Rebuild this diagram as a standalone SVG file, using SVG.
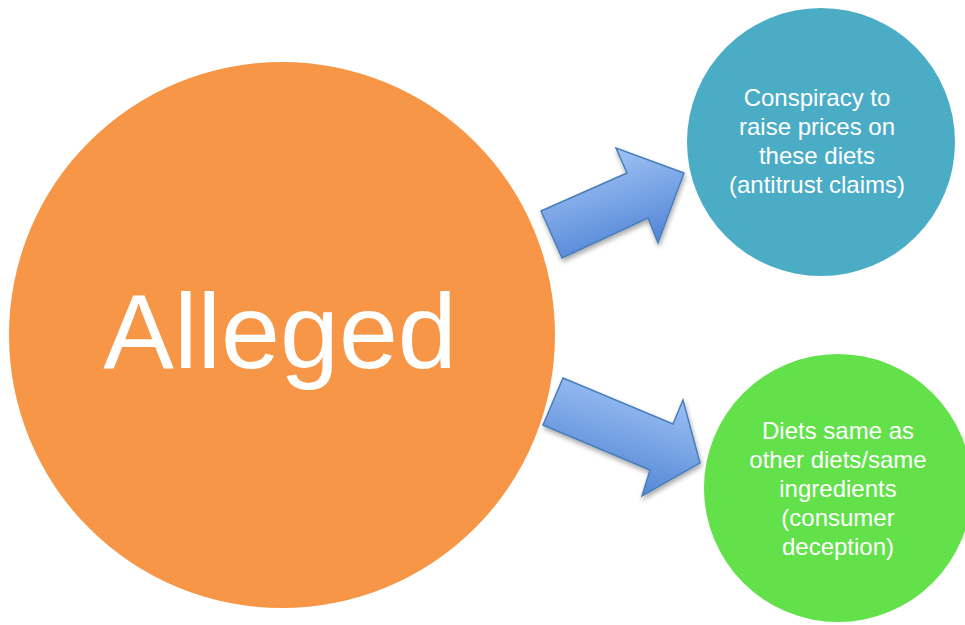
<svg xmlns="http://www.w3.org/2000/svg" width="965" height="625" viewBox="0 0 965 625">
  <defs>
    <!-- arrow fills run across the shaft: light on the upper edge, deeper blue below -->
    <linearGradient id="arrowFillUp" x1="0.3" y1="0" x2="0.7" y2="1">
      <stop offset="0" stop-color="#A6C8F7"/>
      <stop offset="1" stop-color="#4A7FD3"/>
    </linearGradient>
    <linearGradient id="arrowFillDown" x1="0.7" y1="0" x2="0.3" y2="1">
      <stop offset="0" stop-color="#A3C6F6"/>
      <stop offset="1" stop-color="#4B7FD2"/>
    </linearGradient>
    <filter id="shadow" x="-20%" y="-20%" width="150%" height="150%">
      <feGaussianBlur in="SourceAlpha" stdDeviation="2.5"/>
      <feOffset dx="1" dy="3" result="b"/>
      <feComponentTransfer><feFuncA type="linear" slope="0.35"/></feComponentTransfer>
      <feMerge><feMergeNode/><feMergeNode in="SourceGraphic"/></feMerge>
    </filter>
    <style>
      .label { font-family: "Liberation Sans", Arial, sans-serif; fill: #ffffff; text-anchor: middle; }
      .small { font-size: 24px; }
      .big { font-size: 106px; }
      .arrow { stroke: #4A7EBB; stroke-width: 1.5; stroke-linejoin: miter; }
    </style>
  </defs>

  <rect width="965" height="625" fill="#ffffff"/>

  <g id="node-alleged">
    <circle cx="282" cy="335" r="273" fill="#F79646"/>
    <text class="label big" x="280" y="368">Alleged</text>
  </g>

  <g id="node-antitrust">
    <circle cx="821" cy="142" r="134" fill="#4BACC6"/>
    <text class="label small" x="817" y="106">Conspiracy to</text>
    <text class="label small" x="817" y="135">raise prices on</text>
    <text class="label small" x="817" y="164">these diets</text>
    <text class="label small" x="817" y="193">(antitrust claims)</text>
  </g>

  <g id="node-deception">
    <circle cx="838" cy="488" r="134" fill="#62E14B"/>
    <text class="label small" x="838" y="439">Diets same as</text>
    <text class="label small" x="838" y="468">other diets/same</text>
    <text class="label small" x="838" y="497">ingredients</text>
    <text class="label small" x="838" y="526">(consumer</text>
    <text class="label small" x="838" y="555">deception)</text>
  </g>

  <g id="connectors" filter="url(#shadow)">
    <polygon class="arrow" fill="url(#arrowFillUp)" points="541,211 627,173 616,148 684,173 658,243 648,218 562,258"/>
    <polygon class="arrow" fill="url(#arrowFillDown)" points="563,378 673,424 683,400 700,463 642,496 650,470 543,425"/>
  </g>
</svg>
